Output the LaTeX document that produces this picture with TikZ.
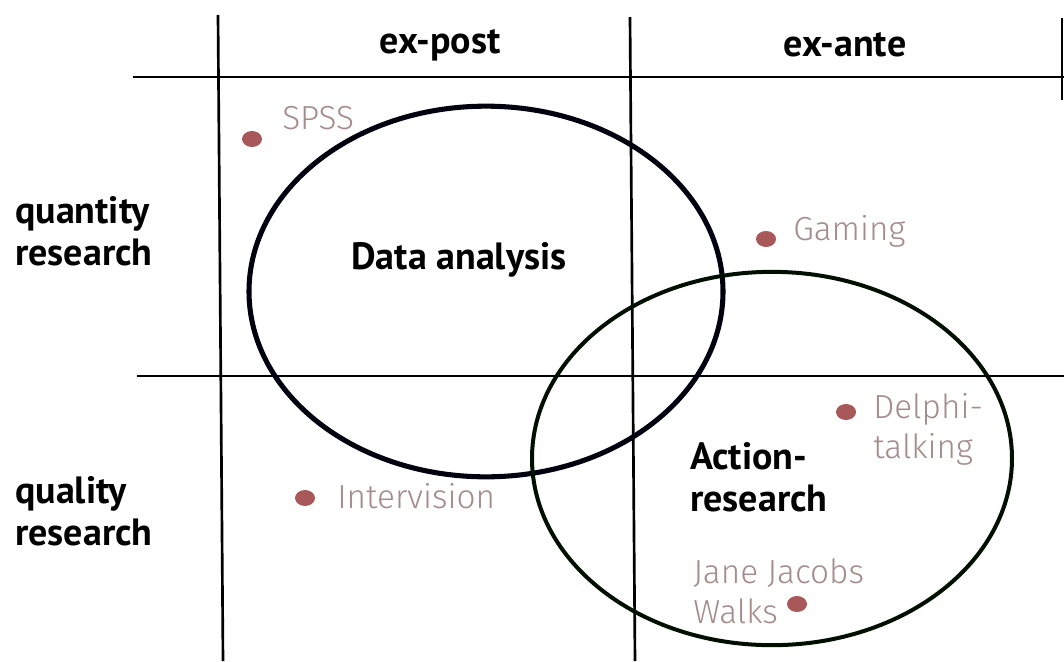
\documentclass[tikz,border=0pt]{standalone}
\usepackage{fontspec}
\setmainfont{PT Sans}
\newfontfamily\lightfont{Fira Sans}[UprightFont={* Light}]
\definecolor{dotc}{RGB}{168,88,88}
\definecolor{labc}{RGB}{165,140,140}
\tikzset{
  grid/.style={line width=2pt, black},
  big/.style={font=\fontsize{28.5}{31.5}\selectfont\bfseries, text=black, inner sep=0pt, align=left},
  lab/.style={font=\lightfont\fontsize{25}{30}\selectfont, text=labc, inner sep=0pt, align=left, anchor=west},
  dot/.style={fill=dotc}
}
\begin{document}
\begin{tikzpicture}[x=0.75pt,y=-0.75pt]
\useasboundingbox[fill=white] (0,0) rectangle (1064,661);
% grid
\coordinate (v1t) at (218,15); \coordinate (v1b) at (223,661);
\coordinate (v2t) at (630,17); \coordinate (v2b) at (635,661);
\coordinate (h1l) at (133,77); \coordinate (h1r) at (1064,77);
\coordinate (h2l) at (137,376); \coordinate (h2r) at (1064,376);
\coordinate (rt) at (1062,18); \coordinate (rb) at (1062,100);
\draw[grid] (v1t) -- (v1b);
\draw[grid] (v2t) -- (v2b);
\draw[grid] (h1l) -- (h1r);
\draw[grid] (h2l) -- (h2r);
\draw[grid] (rt) -- (rb);
% ellipses
\draw[line width=3.8pt, black!90!blue!60!black] (486,291.5) ellipse [x radius=177.75pt, y radius=139pt];
\draw[line width=3pt, black!85!green!40!black] (772,458.5) ellipse [x radius=180pt, y radius=140pt];
% headers
\node[big] (expost) at (440,45) {ex-post};
\node[big] (exante) at (845,45) {ex-ante};
\node[big, anchor=west] (quant) at (15,231) {quantity\\research};
\node[big, anchor=west] (qual) at (15,511) {quality\\research};
\node[big] (data) at (459,260) {Data analysis};
\node[big, anchor=west] (action) at (690,477) {Action-\\research};
% dots and labels
\fill[dot] (252,139) ellipse [x radius=7.5pt, y radius=6pt];
\node[lab] (spss) at (282,118) {SPSS};
\fill[dot] (766,239) ellipse [x radius=7.5pt, y radius=6pt];
\node[lab] (gaming) at (793,231) {Gaming};
\fill[dot] (846,412) ellipse [x radius=7.5pt, y radius=6pt];
\node[lab] (delphi) at (873,429) {Delphi-\\talking};
\fill[dot] (305,498) ellipse [x radius=7.5pt, y radius=6pt];
\node[lab] (inter) at (337,496) {Intervision};
\fill[dot] (797,604) ellipse [x radius=7.5pt, y radius=6pt];
\node[lab] (jane) at (693,591) {Jane Jacobs\\Walks};
\end{tikzpicture}
\end{document}
